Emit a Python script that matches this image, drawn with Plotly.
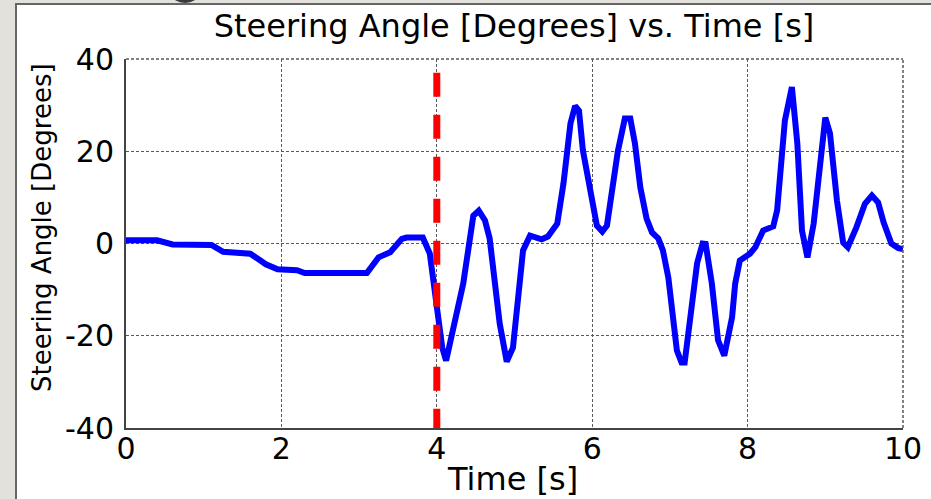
import plotly.graph_objects as go

# ---- data ----
time_s = [0, 0.4, 0.6, 1.1, 1.25, 1.6, 1.8, 1.95, 2.2, 2.3, 3.1, 3.25, 3.4, 3.49, 3.55, 3.61,
          3.82, 3.91, 4.0, 4.07, 4.12, 4.21, 4.34, 4.47, 4.54, 4.62, 4.68, 4.81, 4.90, 4.98,
          5.11, 5.2, 5.35, 5.43, 5.55, 5.63, 5.72, 5.78, 5.83, 5.88, 6.06, 6.13, 6.19, 6.33,
          6.42, 6.49, 6.55, 6.62, 6.70, 6.77, 6.85, 6.91, 6.98, 7.09, 7.15, 7.19, 7.26, 7.35,
          7.42, 7.46, 7.54, 7.62, 7.70, 7.80, 7.84, 7.90, 8.03, 8.10, 8.20, 8.33, 8.38, 8.48,
          8.57, 8.64, 8.70, 8.77, 8.85, 8.93, 9.0, 9.06, 9.15, 9.23, 9.29, 9.40, 9.51, 9.60,
          9.68, 9.75, 9.85, 9.94, 10.0]
steer_deg = [0.7, 0.7, -0.2, -0.3, -1.8, -2.2, -4.5, -5.6, -5.8, -6.4, -6.4, -3.0, -1.9, -0.4, 1.0, 1.3,
             1.3, -2.2, -13.9, -22.6, -25.4, -18.9, -8.7, 6.0, 7.1, 5.0, 1.1, -17.4, -25.6, -22.6,
             -1.5, 1.7, 0.9, 1.5, 4.3, 13.0, 26.0, 29.8, 28.8, 20.2, 3.9, 2.6, 3.9, 20.0,
             27.1, 27.1, 21.7, 12.1, 5.4, 2.4, 1.1, -1.5, -7.4, -23.2, -25.8, -25.8, -16.0, -4.3,
             0.0, -0.1, -8.7, -21.0, -24.3, -16.0, -8.7, -3.7, -2.2, -0.8, 2.8, 3.7, 7.2, 26.7,
             33.9, 21.7, 2.8, -3.0, 4.3, 18.0, 27.3, 23.9, 9.3, 0.2, -0.8, 3.5, 8.6, 10.4,
             8.9, 4.6, 0.0, -1.0, -1.2]

event_t = [4, 4]
event_y = [37, -40]

x_ticks = [0, 2, 4, 6, 8, 10]
y_ticks = [-40, -20, 0, 20, 40]

FONT = "DejaVu Sans, Arial, sans-serif"
GRID = "#5a5a5a"

fig = go.Figure()
fig.add_trace(go.Scatter(x=time_s, y=steer_deg, mode="lines",
                         line=dict(color="#0000ff", width=6), showlegend=False))
fig.add_trace(go.Scatter(x=event_t, y=event_y, mode="lines",
                         line=dict(color="#ff0000", width=7, dash="24px,18px"), showlegend=False))

# slide background: grey strip at left/top, white panel
L, R, T, B = 126, 28, 59, 71
W, H = 931, 499
pw, ph = W - L - R, H - T - B
def px_x(p):
    return (p - L) / pw
def px_y(p):
    return (H - B - p) / ph

fig.add_shape(type="rect", xref="paper", yref="paper", layer="below",
              x0=px_x(16), x1=px_x(945), y0=px_y(4), y1=px_y(515),
              fillcolor="white", line=dict(color="#666666", width=2))
fig.add_shape(type="circle", xref="paper", yref="paper", layer="below",
              x0=px_x(172), x1=px_x(198), y0=px_y(-14), y1=px_y(3),
              fillcolor="#3a3a3a", line=dict(width=0))
# dotted box edges (top and right) like MATLAB grid
fig.add_shape(type="line", xref="paper", yref="paper", x0=0, x1=1, y0=1, y1=1,
              line=dict(color=GRID, width=1.5, dash="3px,2px"))
fig.add_shape(type="line", xref="paper", yref="paper", x0=1, x1=1, y0=0, y1=1,
              line=dict(color=GRID, width=1.5, dash="3px,2px"))

fig.add_annotation(text="Steering Angle [Degrees]", xref="paper", yref="paper",
                   x=px_x(42), y=px_y(228), xanchor="center", yanchor="middle",
                   textangle=-90, showarrow=False,
                   font=dict(size=26, family=FONT, color="black"))
fig.add_annotation(text="Time [s]", xref="paper", yref="paper",
                   x=px_x(512), y=px_y(479), xanchor="center", yanchor="middle",
                   showarrow=False, font=dict(size=32, family=FONT, color="black"))

fig.update_layout(
    width=W, height=H,
    margin=dict(l=L, r=R, t=T, b=B, autoexpand=False),
    paper_bgcolor="#e2e1dc",
    plot_bgcolor="white",
    font=dict(family=FONT, color="black"),
    title=dict(text="Steering Angle [Degrees] vs. Time [s]", x=(213 + 815) / 2 / W, xanchor="center",
               y=1 - 26 / H, yanchor="middle", font=dict(size=32, family=FONT, color="black")),
    xaxis=dict(range=[0, 10], tickvals=x_ticks, ticktext=[str(v) for v in x_ticks],
               showgrid=True, gridcolor=GRID, griddash="3px,2px", gridwidth=1,
               showline=True, linecolor="#444444", linewidth=2, zeroline=False, automargin=False,
               ticks="", ticklabelstandoff=-7, tickfont=dict(size=30, family=FONT, color="black")),
    yaxis=dict(range=[-40, 40], tickvals=y_ticks, ticktext=[str(v) for v in y_ticks],
               showgrid=True, gridcolor=GRID, griddash="3px,2px", gridwidth=1,
               showline=True, linecolor="#444444", linewidth=2, zeroline=False, automargin=False,
               ticks="", ticklabelstandoff=4, tickfont=dict(size=30, family=FONT, color="black")),
)

fig.write_html("out.html")
